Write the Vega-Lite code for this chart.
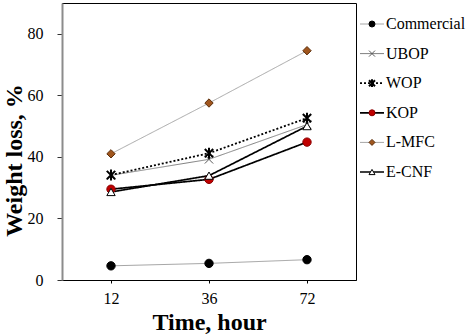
{
  "$schema": "https://vega.github.io/schema/vega-lite/v6.json",
  "width": 294,
  "height": 277,
  "autosize": "none",
  "padding": {"left": 62, "top": 3, "right": 111, "bottom": 54},
  "background": "white",
  "config": {
    "font": "Liberation Serif",
    "view": {"stroke": "black", "strokeWidth": 1},
    "axis": {"grid": false}
  },
  "data": {
    "values": [
      {"series": "Commercial", "time": 12, "loss": 4.6},
      {"series": "Commercial", "time": 36, "loss": 5.4},
      {"series": "Commercial", "time": 72, "loss": 6.6},
      {"series": "UBOP", "time": 12, "loss": 34.0},
      {"series": "UBOP", "time": 36, "loss": 39.2},
      {"series": "UBOP", "time": 72, "loss": 50.5},
      {"series": "WOP", "time": 12, "loss": 34.1},
      {"series": "WOP", "time": 36, "loss": 41.2},
      {"series": "WOP", "time": 72, "loss": 52.6},
      {"series": "KOP", "time": 12, "loss": 29.5},
      {"series": "KOP", "time": 36, "loss": 32.7},
      {"series": "KOP", "time": 72, "loss": 44.8},
      {"series": "L-MFC", "time": 12, "loss": 41.0},
      {"series": "L-MFC", "time": 36, "loss": 57.5},
      {"series": "L-MFC", "time": 72, "loss": 74.5},
      {"series": "E-CNF", "time": 12, "loss": 28.6},
      {"series": "E-CNF", "time": 36, "loss": 33.9},
      {"series": "E-CNF", "time": 72, "loss": 50.0}
    ]
  },
  "encoding": {
    "x": {
      "field": "time",
      "type": "ordinal",
      "scale": {"type": "point", "padding": 0.5},
      "axis": {
        "title": "Time, hour",
        "titleFont": "Liberation Serif",
        "titleFontSize": 24,
        "titleFontWeight": "bold",
        "titleColor": "black",
        "titlePadding": 4,
        "labelAngle": 0,
        "labelFont": "Liberation Serif",
        "labelFontSize": 16,
        "labelColor": "black",
        "labelPadding": 7,
        "tickSize": 3,
        "tickColor": "black",
        "domainColor": "black",
        "domainWidth": 1
      }
    },
    "y": {
      "field": "loss",
      "type": "quantitative",
      "scale": {"domain": [0, 90], "nice": false},
      "axis": {
        "title": "Weight loss, %",
        "titleFont": "Liberation Serif",
        "titleFontSize": 24,
        "titleFontWeight": "bold",
        "titleColor": "black",
        "titleX": -48,
        "titleY": 157,
        "titleAlign": "center",
        "titleBaseline": "middle",
        "titleAngle": 270,
        "values": [0, 20, 40, 60, 80],
        "labelFont": "Liberation Serif",
        "labelFontSize": 16,
        "labelColor": "black",
        "labelPadding": 14,
        "tickSize": 5,
        "tickColor": "#333333",
        "domainColor": "#8c8c8c",
        "domainWidth": 2
      }
    }
  },
  "layer": [
    {
      "mark": {"type": "line"},
      "encoding": {
        "stroke": {
          "field": "series",
          "type": "nominal",
          "scale": {
            "domain": ["Commercial", "UBOP", "WOP", "KOP", "L-MFC", "E-CNF"],
            "range": ["#a6a6a6", "#808080", "#000000", "#000000", "#a6a6a6", "#000000"]
          },
          "legend": {
            "title": null,
            "orient": "none",
            "legendX": 302,
            "legendY": 13,
            "padding": 0,
            "symbolType": "M-4,0H4",
            "symbolSize": 36,
            "labelFont": "Liberation Serif",
            "labelFontSize": 16,
            "labelColor": "black",
            "labelOffset": 6,
            "rowPadding": 13.6,
            "zindex": 0
          }
        },
        "strokeDash": {
          "field": "series",
          "type": "nominal",
          "scale": {
            "domain": ["Commercial", "UBOP", "WOP", "KOP", "L-MFC", "E-CNF"],
            "range": [[1, 0], [1, 0], [2, 2], [1, 0], [1, 0], [1, 0]]
          }
        },
        "strokeWidth": {
          "field": "series",
          "type": "nominal",
          "scale": {
            "type": "ordinal",
            "domain": ["Commercial", "UBOP", "WOP", "KOP", "L-MFC", "E-CNF"],
            "range": [1, 1, 1.8, 1.7, 1, 1.7]
          }
        }
      }
    },
    {
      "mark": {"type": "point", "size": 70, "opacity": 1},
      "encoding": {
        "shape": {
          "field": "series",
          "type": "nominal",
          "scale": {
            "domain": ["Commercial", "UBOP", "WOP", "KOP", "L-MFC", "E-CNF"],
            "range": ["circle", "M-1,-1L1,1M-1,1L1,-1", "M-1,-1L1,1M-1,1L1,-1M0,-1.3L0,1.3", "circle", "diamond", "triangle-up"]
          },
          "legend": {
            "title": null,
            "orient": "none",
            "legendX": 302,
            "legendY": 13,
            "padding": 0,
            "symbolSize": 36,
            "labelFont": "Liberation Serif",
            "labelFontSize": 16,
            "labelColor": "transparent",
            "labelOpacity": 0,
            "labelOffset": 6,
            "rowPadding": 13.6,
            "zindex": 1
          }
        },
        "fill": {
          "field": "series",
          "type": "nominal",
          "scale": {
            "domain": ["Commercial", "UBOP", "WOP", "KOP", "L-MFC", "E-CNF"],
            "range": ["#000000", "transparent", "#bfbfbf", "#c00000", "#a0561e", "#ffffff"]
          }
        },
        "stroke": {
          "field": "series",
          "type": "nominal",
          "scale": {
            "domain": ["Commercial", "UBOP", "WOP", "KOP", "L-MFC", "E-CNF"],
            "range": ["#000000", "#595959", "#000000", "#8b0000", "#5c2e0a", "#000000"]
          }
        },
        "strokeWidth": {
          "field": "series",
          "type": "nominal",
          "scale": {
            "type": "ordinal",
            "domain": ["Commercial", "UBOP", "WOP", "KOP", "L-MFC", "E-CNF"],
            "range": [1, 1, 2, 1, 1, 1]
          }
        }
      }
    }
  ],
  "resolve": {"scale": {"stroke": "independent", "strokeDash": "independent", "shape": "independent", "fill": "independent", "strokeWidth": "independent"}}
}
